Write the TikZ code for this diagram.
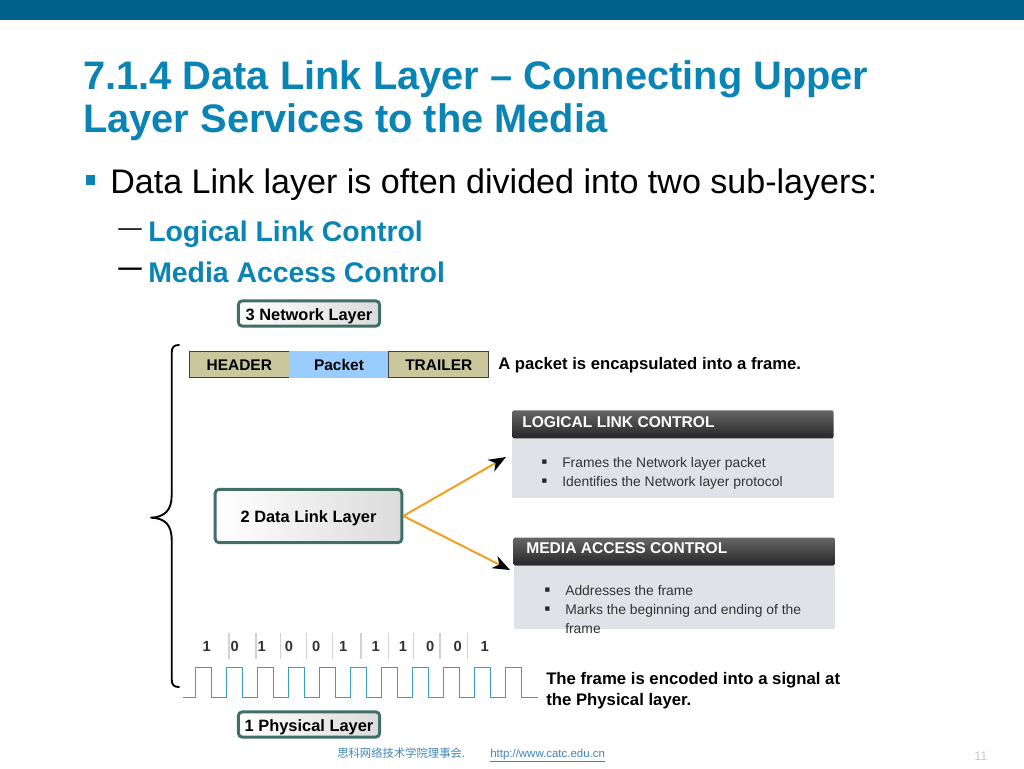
\documentclass[tikz,border=0pt]{standalone}
\usepackage{fontspec}
\setmainfont{Liberation Sans}
\newfontfamily\cjk{Noto Sans CJK SC}
\usetikzlibrary{arrows.meta}
\definecolor{barblue}{HTML}{00628B}
\definecolor{titleblue}{HTML}{0A84B4}
\definecolor{layergreen}{HTML}{3F7068}
\definecolor{framekhaki}{HTML}{C9C79B}
\definecolor{packetblue}{HTML}{99CCFF}
\definecolor{panelgrey}{HTML}{DFE2E7}
\definecolor{signalblue}{HTML}{3A9DBE}
\definecolor{footblue}{HTML}{3F86B8}
\definecolor{arrowgold}{HTML}{F0A020}
\tikzset{
	txt/.style={inner sep=0pt,anchor=base west},
	layerbox/.style={draw=layergreen,line width=2.2pt,rounded corners=3pt,left color=white,right color=black!14,font=\bfseries\fontsize{12.3}{14}\selectfont,inner sep=0pt,text height=10.2pt,text depth=0pt,anchor=center},
	framebox/.style={draw=black!75,line width=.6pt,fill=framekhaki,minimum width=75pt,minimum height=20pt,inner sep=0pt,text height=9.5pt,text depth=0pt,font=\bfseries\fontsize{11.6}{13}\selectfont},
	panelhead/.style={rounded corners=1.5pt,top color=black!60,bottom color=black!85,anchor=north west,inner sep=0pt,minimum height=21pt},
	panelbody/.style={fill=panelgrey,anchor=north west,inner sep=0pt},
	paneltxt/.style={txt,font=\fontsize{10.4}{12}\selectfont,text=black!80},
	paneldot/.style={txt,font=\fontsize{13}{14}\selectfont,text=black!85},
	orangearrow/.style={draw=arrowgold,line width=1.5pt,-{Stealth[black,length=13pt,width=10pt,inset=4pt]}},
}
\begin{document}
\begin{tikzpicture}[x=0.75pt,y=-0.75pt]
	\useasboundingbox[fill=white] (0,0) rectangle (1024,768);
	\fill[barblue] (0,0) rectangle (1024,20);
	% title and bullets
	\node[txt,text=titleblue,font=\bfseries\fontsize{29.85}{33}\selectfont] (title1) at (83,89) {7.1.4 Data Link Layer -- Connecting Upper};
	\node[txt,text=titleblue,font=\bfseries\fontsize{29.85}{33}\selectfont] (title2) at (83,132) {Layer Services to the Media};
	\fill[titleblue] (86,175) rectangle (95,185);
	\node[txt,font=\fontsize{25.55}{29}\selectfont] (main) at (110,193) {Data Link layer is often divided into two sub-layers:};
	\node[txt,font=\fontsize{17.6}{22}\selectfont] (dash1) at (118,235) {—};
	\node[txt,font=\bfseries\fontsize{21.3}{24}\selectfont,text=titleblue] (llctxt) at (148,241.5) {Logical Link Control};
	\node[txt,font=\bfseries\fontsize{17.6}{22}\selectfont] (dash2) at (118,275) {—};
	\node[txt,font=\bfseries\fontsize{21.3}{24}\selectfont,text=titleblue] (mactxt) at (148,282) {Media Access Control};
	% brace
	\draw[line width=1.4pt,line cap=round,line join=round] (179,345) .. controls (174,345) and (171.7,347) .. (171.7,353)
		-- (171.7,495) .. controls (171.7,510) and (165,517) .. (151,517.7)
		.. controls (165,518) and (171.7,525) .. (171.7,540)
		-- (171.7,679) .. controls (171.7,685) and (174,687) .. (179,687);
	% layers
	\node[layerbox,minimum width=106pt,minimum height=19pt] (network) at (309,313.5) {3 Network Layer};
	\node[layerbox,minimum width=140pt,minimum height=40pt] (datalink) at (308.5,516) {2 Data Link Layer};
	\node[layerbox,minimum width=106pt,minimum height=19pt] (physical) at (309,724.5) {1 Physical Layer};
	% frame
	\node[framebox] (header) at (239.3,364.3) {HEADER};
	\node[framebox,draw=none,fill=packetblue] (packet) at (339,364.3) {Packet};
	\node[framebox] (trailer) at (438.8,364.3) {TRAILER};
	\node[txt,font=\bfseries\fontsize{12.5}{14}\selectfont] (packetcap) at (498,369) {A packet is encapsulated into a frame.};
	% panels
	\node[panelbody,minimum width=241pt,minimum height=44.5pt] (llcbody) at (512,438) {};
	\node[panelhead,minimum width=241pt] (llchead) at (512,410) {};
	\node[txt,text=white,font=\bfseries\fontsize{11.7}{13}\selectfont] (llctitle) at (522,427) {LOGICAL LINK CONTROL};
	\node[paneldot] (llcdot1) at (541,467) {▪};
	\node[paneltxt] (llcline1) at (562,467) {Frames the Network layer packet};
	\node[paneldot] (llcdot2) at (541,486) {▪};
	\node[paneltxt] (llcline2) at (562,486) {Identifies the Network layer protocol};
	\node[panelbody,minimum width=241pt,minimum height=47pt] (macbody) at (513.3,565.7) {};
	\node[panelhead,minimum width=241pt] (machead) at (513.3,537.3) {};
	\node[txt,text=white,font=\bfseries\fontsize{11.7}{13}\selectfont] (mactitle) at (526,553) {MEDIA ACCESS CONTROL};
	\node[paneldot] (macdot1) at (544,595) {▪};
	\node[paneltxt] (macline1) at (565,595) {Addresses the frame};
	\node[paneldot] (macdot2) at (544,614) {▪};
	\node[paneltxt] (macline2) at (565,614) {Marks the beginning and ending of the};
	\node[paneltxt] (macline3) at (565,633) {frame};
	% arrows
	\coordinate (llctip) at (506,457);
	\coordinate (mactip) at (510,570);
	\draw[orangearrow] (datalink.east) -- (llctip);
	\draw[orangearrow] (datalink.east) -- (mactip);
	% bits
	\foreach \tx in {229,256,280.3,306.3,332.7,361,388.7,413.3,440,467.3}
		\draw[black!18,line width=1pt] (\tx,633) -- (\tx,659);
	\foreach \bx/\bv [count=\bi] in {206.7/1,234.7/0,261.7/1,289/0,316.3/0,343.3/1,375.7/1,403/1,430.3/0,457.7/0,484.7/1}
		\node[font=\bfseries\fontsize{11}{12}\selectfont,text=black!80,inner sep=0pt] (bit\bi) at (\bx,646.7) {\bv};
	% signal
	\coordinate (sigstart) at (183.3,697.5);
	\draw[signalblue,line width=1pt] (sigstart)
		\foreach \i in {0,...,10} {
			-- ({195.7+\i*30.96},697.5) -- ({195.7+\i*30.96},667.5) -- ({211.7+\i*30.96},667.5) -- ({211.7+\i*30.96},697.5)
		} -- (538,697.5);
	\node[txt,font=\bfseries\fontsize{12.55}{14}\selectfont] (sigcap1) at (546,684) {The frame is encoded into a signal at};
	\node[txt,font=\bfseries\fontsize{12.55}{14}\selectfont] (sigcap2) at (546,705) {the Physical layer.};
	% footer
	\node[txt,text=footblue,font=\cjk\fontsize{8.5}{10}\selectfont] (footcn) at (337,757) {思科网络技术学院理事会.};
	\node[txt,text=footblue,font=\fontsize{8.6}{10}\selectfont] (footurl) at (490,757) {\underline{http://www.catc.edu.cn}};
	\node[txt,text=black!20,font=\fontsize{9.5}{11}\selectfont] (pagenum) at (974,760) {11};
\end{tikzpicture}
\end{document}
